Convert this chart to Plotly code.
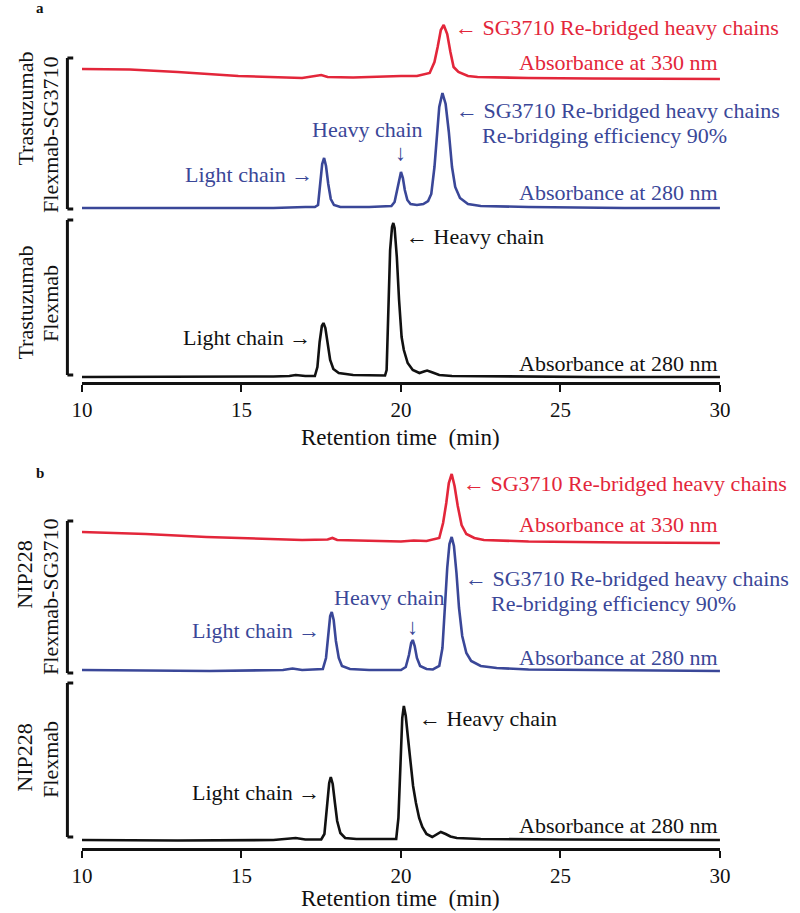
import plotly.graph_objects as go

# ---------------- DATA (y = relative absorbance, stacked) -------------
# Panel a: Trastuzumab
a_red_t = [10, 11.5, 13, 14.9, 16.9, 17.5, 17.7, 18.5, 20.0, 20.5, 20.9, 21.05, 21.15, 21.25, 21.34,
           21.45, 21.55, 21.65, 21.8, 22.1, 22.4, 24, 26, 28, 30]
a_red_v = [313, 312.5, 310, 306, 304, 307, 305, 304.5, 306, 306, 309, 320, 335, 352, 357,
           348, 330, 315, 310, 306, 305, 304, 303.5, 303, 303]

a_blue_t = [10, 12, 14, 16, 17.0, 17.3, 17.4, 17.47, 17.53, 17.59, 17.65, 17.72, 17.8, 17.9, 18.1,
            19.0, 19.7, 19.8, 19.88, 19.95, 20.0, 20.06, 20.12, 20.2, 20.3, 20.5, 20.7, 20.85,
            20.95, 21.05, 21.12, 21.2, 21.3, 21.4, 21.5, 21.6, 21.7, 21.85, 22.1, 22.5, 24, 27, 30]
a_blue_v = [174, 174, 173.5, 174, 175, 175, 177, 199, 218, 224, 216, 198, 183, 177, 175,
            175, 176, 180, 192, 206, 210, 204, 192, 182, 178, 177, 178, 181,
            188, 215, 245, 275, 289, 278, 250, 215, 195, 184, 178, 176, 175, 174, 174]

a_black_t = [10, 13, 16, 16.5, 16.7, 17.0, 17.3, 17.38, 17.45, 17.52, 17.57, 17.63, 17.7, 17.78,
             17.88, 18.05, 18.5, 19.3, 19.5, 19.55, 19.61, 19.66, 19.72, 19.76, 19.8, 19.87,
             19.94, 20.02, 20.09, 20.21, 20.37, 20.58, 20.72, 20.82, 20.95, 21.2, 21.6, 23, 26, 30]
a_black_v = [5, 5, 5.5, 6, 7, 6, 6, 15, 40, 56, 59, 54, 38, 22,
             13, 9, 7, 6, 6.5, 12, 82, 132, 155, 159, 154, 125,
             82, 45, 32, 19, 12, 9, 10.5, 11.5, 10, 7, 6, 5.5, 5, 5]

# Panel b: NIP228
b_red_t = [10, 12, 13.9, 16.9, 17.7, 17.85, 18.0, 20.0, 20.4, 20.8, 21.2, 21.32, 21.42, 21.5,
           21.59, 21.68, 21.78, 21.9, 22.05, 22.3, 22.6, 24, 27, 30]
b_red_v = [316, 314, 311, 308, 308.5, 310, 308, 306.5, 307.5, 307, 310, 325, 345, 365,
           374, 362, 342, 323, 314, 310, 308, 306.5, 305.5, 305]

b_blue_t = [10, 12, 14, 16.3, 16.6, 16.9, 17.55, 17.65, 17.72, 17.78, 17.83, 17.89, 17.96, 18.05,
            18.15, 18.4, 19.0, 20.0, 20.15, 20.25, 20.32, 20.37, 20.43, 20.5, 20.6, 20.8, 21.0,
            21.2, 21.3, 21.37, 21.45, 21.52, 21.59, 21.66, 21.74, 21.82, 21.92, 22.05, 22.2,
            22.5, 23, 24, 27, 30]
b_blue_v = [178, 177.5, 177, 178, 179.5, 178, 179, 190, 215, 232, 236, 228, 207, 190,
            182, 179, 178, 178, 181, 193, 205, 208, 202, 190, 182, 179, 178.5,
            182, 200, 240, 280, 304, 311, 302, 275, 240, 212, 195, 187,
            182, 180, 178.5, 177.5, 177]

b_black_t = [10, 13, 16, 16.7, 17.0, 17.5, 17.6, 17.68, 17.75, 17.8, 17.86, 17.93, 18.0, 18.1,
             18.25, 18.6, 19.5, 19.85, 19.92, 19.98, 20.04, 20.09, 20.15, 20.22, 20.3, 20.38,
             20.47, 20.57, 20.67, 20.8, 20.98, 21.12, 21.25, 21.4, 21.55, 21.75, 22.5, 25, 30]
b_black_v = [8, 7.5, 8, 10, 8.5, 8.5, 14, 40, 65, 71, 64, 45, 27, 15,
             10, 9, 8.5, 9, 30, 85, 130, 142, 132, 110, 85, 62,
             45, 30, 21, 14, 11, 13.5, 16, 14, 11.5, 10, 9, 8.5, 8]

x_ticks = [10, 15, 20, 25, 30]
x_title = "Retention time  (min)"

RED = "#e3263a"
BLUE = "#3a4798"
BLACK = "#111111"
FONT = "Liberation Serif, Times New Roman, serif"

fig = go.Figure()

def add(t, v, color, xa, ya):
    fig.add_trace(go.Scatter(x=t, y=v, mode="lines", line=dict(color=color, width=2.6),
                             xaxis=xa, yaxis=ya, hoverinfo="skip", showlegend=False))

add(a_red_t, a_red_v, RED, "x", "y")
add(a_blue_t, a_blue_v, BLUE, "x", "y")
add(a_black_t, a_black_v, BLACK, "x", "y")
add(b_red_t, b_red_v, RED, "x2", "y2")
add(b_blue_t, b_blue_v, BLUE, "x2", "y2")
add(b_black_t, b_black_v, BLACK, "x2", "y2")

W, H = 800, 913
xdom = [73 / W, 729 / W]
ax_common = dict(range=[10, 30], tickvals=x_ticks, ticks="outside", ticklen=7, tickwidth=2.2,
                 tickcolor=BLACK, showline=True, linecolor=BLACK, linewidth=2.6,
                 showgrid=False, zeroline=False, domain=xdom,
                 tickfont=dict(family=FONT, size=21, color=BLACK))
fig.update_layout(
    width=W, height=H, margin=dict(l=0, r=0, t=0, b=0),
    paper_bgcolor="white", plot_bgcolor="white",
    xaxis=dict(anchor="y", **ax_common),
    xaxis2=dict(anchor="y2", **ax_common),
    yaxis=dict(range=[0, 363], domain=[1 - 382 / H, 1 - 19 / H], visible=False),
    yaxis2=dict(range=[0, 383], domain=[1 - 848 / H, 1 - 465 / H], visible=False),
)

def ann(text, x, y, color, xanchor="left", xr="x", yr="y", size=22, **kw):
    fig.add_annotation(text=text, x=x, y=y, xref=xr, yref=yr, xanchor=xanchor, yanchor="middle",
                       showarrow=False, font=dict(family=FONT, size=size, color=color), **kw)

# Panel a annotations
ann("← SG3710 Re-bridged heavy chains", 21.62, 354, RED)
ann("Absorbance at 330 nm", 30, 319, RED, xanchor="right")
ann("← SG3710 Re-bridged heavy chains", 21.65, 271, BLUE)
ann("Re-bridging efficiency 90%", 22.47, 246, BLUE)
ann("Absorbance at 280 nm", 30, 189, BLUE, xanchor="right")
ann("Heavy chain", 17.15, 252, BLUE)
ann("↓", 20.0, 229, BLUE, xanchor="center")
ann("Light chain →", 17.32, 207, BLUE, xanchor="right")
ann("← Heavy chain", 20.09, 145, BLACK)
ann("Light chain →", 17.23, 45, BLACK, xanchor="right")
ann("Absorbance at 280 nm", 30, 19, BLACK, xanchor="right")

# Panel b annotations
ann("← SG3710 Re-bridged heavy chains", 21.89, 364, RED, xr="x2", yr="y2")
ann("Absorbance at 330 nm", 30, 324, RED, xanchor="right", xr="x2", yr="y2")
ann("← SG3710 Re-bridged heavy chains", 21.95, 270, BLUE, xr="x2", yr="y2")
ann("Re-bridging efficiency 90%", 22.77, 245, BLUE, xr="x2", yr="y2")
ann("Absorbance at 280 nm", 30, 191, BLUE, xanchor="right", xr="x2", yr="y2")
ann("Heavy chain", 17.84, 251, BLUE, xr="x2", yr="y2")
ann("↓", 20.37, 222, BLUE, xanchor="center", xr="x2", yr="y2")
ann("Light chain →", 17.53, 218, BLUE, xanchor="right", xr="x2", yr="y2")
ann("← Heavy chain", 20.49, 130, BLACK, xr="x2", yr="y2")
ann("Light chain →", 17.53, 56, BLACK, xanchor="right", xr="x2", yr="y2")
ann("Absorbance at 280 nm", 30, 23, BLACK, xanchor="right", xr="x2", yr="y2")

# Axis titles and panel letters
for ypx in (437, 898):
    ann(x_title, 0.5, 1 - ypx / H, BLACK, xanchor="center", xr="paper", yr="paper", size=23)
ann("<b>a</b>", 30 / W, 1 - 8 / H, BLACK, xanchor="center", xr="paper", yr="paper", size=15)
ann("<b>b</b>", 30 / W, 1 - 473 / H, BLACK, xanchor="center", xr="paper", yr="paper", size=15)

# Left side rotated sample labels
def vlab(text, xpx, ypx):
    ann(text, xpx / W, 1 - ypx / H, BLACK, xanchor="center", xr="paper", yr="paper",
        size=22, textangle=-90)

vlab("Trastuzumab", 14, 109)
vlab("Flexmab-SG3710", 40, 135)
vlab("Trastuzumab", 14, 303)
vlab("Flexmab", 40, 303)
vlab("NIP228", 13, 575)
vlab("Flexmab-SG3710", 40, 597)
vlab("NIP228", 13, 758)
vlab("Flexmab", 40, 759)

# Brackets
def bracket(y0, y1, yr):
    xl, xr_ = 58 / W, 64 / W
    for (xa, ya, xb, yb) in [(xl, y0, xl, y1), (xl, y0, xr_, y0), (xl, y1, xr_, y1)]:
        fig.add_shape(type="line", xref="paper", yref=yr, x0=xa, y0=ya, x1=xb, y1=yb,
                      line=dict(color=BLACK, width=3))

bracket(173, 324, "y")
bracket(7, 162, "y")
bracket(175, 327, "y2")
bracket(11, 165, "y2")

fig.write_html("out.html", config={"displayModeBar": False},
               post_script="document.body.style.margin='0px';document.body.style.overflow='hidden';")
